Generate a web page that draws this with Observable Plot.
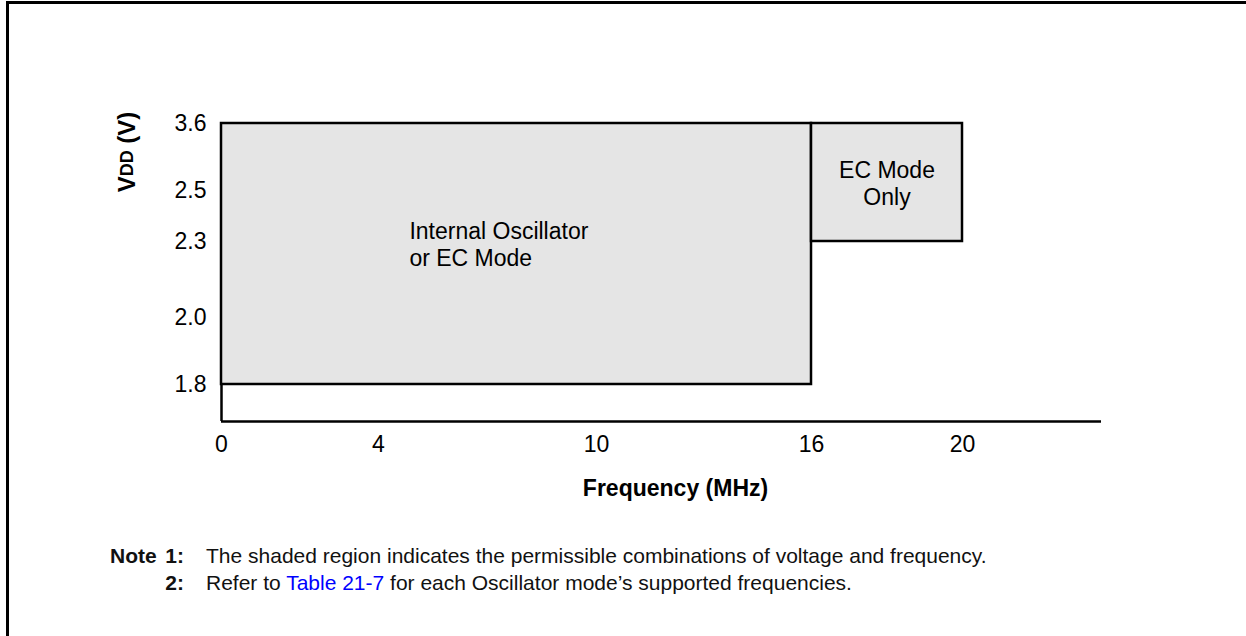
<!DOCTYPE html>
<html>
<head>
<meta charset="utf-8">
<script src="https://cdn.jsdelivr.net/npm/d3@7"></script>
<script src="https://cdn.jsdelivr.net/npm/@observablehq/plot@0.6"></script>
<style>
  body { margin: 0; background: #fff; }
  #wrap { position: relative; width: 1246px; height: 636px; overflow: hidden; font-family: "Liberation Sans", Arial, sans-serif; }
  #chart { position: absolute; left: 0; top: 0; }
  #border { position: absolute; left: 6px; top: 1px; width: 1300px; height: 700px; border-top: 3px solid #000; border-left: 3px solid #000; pointer-events: none; }
  #notes { position: absolute; left: 0; top: 542px; font-size: 21px; line-height: 27px; color: #111; }
  .row { position: relative; height: 27px; width: 1246px; }
  .head { position: absolute; left: 110px; font-weight: bold; }
  .num { position: absolute; right: 1062px; font-weight: bold; }
  .txt { position: absolute; left: 206px; white-space: nowrap; }
  .link { color: #0000ff; }
</style>
</head>
<body>
<div id="wrap">
  <div id="chart"></div>
  <div id="notes">
    <div class="row"><span class="head">Note</span><span class="num">1:</span><span class="txt">The shaded region indicates the permissible combinations of voltage and frequency.</span></div>
    <div class="row"><span class="num">2:</span><span class="txt">Refer to <span class="link">Table 21-7</span> for each Oscillator mode’s supported frequencies.</span></div>
  </div>
  <div id="border"></div>
</div>
<script>
// ---- data ----
const freqTicks = [0, 4, 10, 16, 20];          // MHz tick labels
const vddTicks = [1.8, 2.0, 2.3, 2.5, 3.6];     // V tick labels
const freqAxisEnd = 23.7;                       // end of the frequency axis line
const vddAxisFloor = 1.7;                       // level of the frequency axis line

const regionNames = ["Internal Oscillator\nor EC Mode", "EC Mode\nOnly"];
const regionFreqMin = [0, 16];
const regionFreqMax = [16, 20];
const regionVddMin = [1.8, 2.3];
const regionVddMax = [3.6, 3.6];
const labelFreq = [4.85, 18];
const labelVdd = [2.29, 2.62];

// schematic (non-linear) axis layout: pixel positions of the breakpoints
const freqBreaks = [...freqTicks, freqAxisEnd];
const freqPos = [221, 378, 596, 811, 962, 1101];
const vddBreaks = [vddAxisFloor, ...vddTicks];
const vddPos = [421, 384, 317, 241, 190, 123];

const regions = regionNames.map((name, i) => ({
  name, f0: regionFreqMin[i], f1: regionFreqMax[i], v0: regionVddMin[i], v1: regionVddMax[i],
  lx: labelFreq[i], ly: labelVdd[i]
}));

// piecewise interpolator for a schematic axis
function warp(vals, px) {
  const v0 = vals[0], v1 = vals[vals.length - 1];
  const p0 = px[0], p1 = px[px.length - 1];
  const f = d3.scaleLinear()
    .domain(vals.map(v => (v - v0) / (v1 - v0)))
    .range(px.map(p => (p - p0) / (p1 - p0)));
  return (a, b) => t => a + (b - a) * f(t);
}

const font = '"Liberation Sans", Arial, sans-serif';

const svg = Plot.plot({
  width: 1246,
  height: 520,
  marginLeft: 221,
  marginRight: 145,
  marginTop: 123,
  marginBottom: 99,
  style: { fontFamily: font, fontSize: "23px", color: "#000", background: "transparent", overflow: "visible" },
  x: { domain: [freqBreaks[0], freqAxisEnd], interpolate: warp(freqBreaks, freqPos), ticks: freqTicks, tickSize: 0, tickPadding: 14, label: null },
  y: { domain: [vddAxisFloor, vddTicks[vddTicks.length - 1]], interpolate: warp(vddBreaks, vddPos), ticks: vddTicks, tickSize: 0, tickPadding: 15, tickFormat: d3.format(".1f"), label: null },
  marks: [
    Plot.rect(regions, { x1: "f0", x2: "f1", y1: "v0", y2: "v1", fill: "#e5e5e5", stroke: "#000", strokeWidth: 2.5 }),
    Plot.ruleX([0], { x: d => d, y1: vddAxisFloor, y2: vddTicks[0], stroke: "#000", strokeWidth: 2.5 }),
    Plot.ruleY([vddAxisFloor], { y: d => d, x1: freqTicks[0], x2: freqAxisEnd, stroke: "#000", strokeWidth: 2.5 }),
    Plot.text([regions[0]], { x: "lx", y: "ly", text: "name", textAnchor: "start", lineHeight: 1.17, fontSize: 23, fill: "#000" }),
    Plot.text([regions[1]], { x: "lx", y: "ly", text: "name", textAnchor: "middle", lineHeight: 1.17, fontSize: 23, fill: "#000" }),
    Plot.text(["Frequency (MHz)"], { text: d => d, frameAnchor: "bottom", dy: 74, dx: 14, fontWeight: "bold", fontSize: 23, fill: "#000" })
  ]
});
document.getElementById("chart").appendChild(svg);

// y-axis title with subscript
const yt = d3.select(svg).append("text")
  .attr("transform", "translate(127,152) rotate(-90)")
  .attr("text-anchor", "middle")
  .attr("dy", "0.35em")
  .attr("font-family", font)
  .attr("font-weight", "bold")
  .attr("font-size", 24)
  .attr("fill", "#000");
yt.append("tspan").text("V");
yt.append("tspan").attr("font-size", 18).attr("dy", -2).text("DD");
yt.append("tspan").attr("dy", 2).text(" (V)");
</script>
</body>
</html>
